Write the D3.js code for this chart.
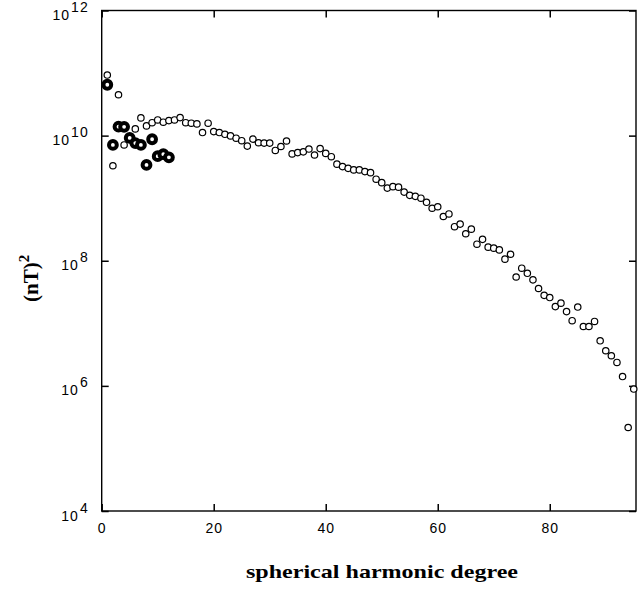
<!DOCTYPE html>
<html>
<head>
<meta charset="utf-8">
<script src="https://cdn.jsdelivr.net/npm/d3@7/dist/d3.min.js"></script>
<style>
  body { margin: 0; background: #fff; }
  .tick line { stroke: #000; stroke-width: 1.5; }
</style>
</head>
<body>
<svg id="chart"></svg>
<script>
// spherical harmonic degree (open circles)
var openDegree = [1,2,3,4,5,6,7,8,9,10,11,12,13,14,15,16,17,18,19,20,
  21,22,23,24,25,26,27,28,29,30,31,32,33,34,35,36,37,38,39,40,
  41,42,43,44,45,46,47,48,49,50,51,52,53,54,55,56,57,58,59,60,
  61,62,63,64,65,66,67,68,69,70,71,72,73,74,75,76,77,78,79,80,
  81,82,83,84,85,86,87,88,89,90,91,92,93,94,95];
// power, (nT)^2
var openPower = [9.3e10, 3.3e9, 4.5e10, 7.1e9, 9.5e9, 1.28e10, 1.92e10, 1.43e10, 1.61e10, 1.78e10,
  1.64e10, 1.74e10, 1.78e10, 1.94e10, 1.61e10, 1.58e10, 1.54e10, 1.12e10, 1.58e10, 1.16e10,
  1.12e10, 1.05e10, 9.9e9, 9.1e9, 8.3e9, 6.8e9, 8.8e9, 7.7e9, 7.6e9, 7.6e9,
  5.8e9, 6.7e9, 8.2e9, 5.1e9, 5.35e9, 5.5e9, 6.1e9, 4.9e9, 6.2e9, 5.2e9,
  4.6e9, 3.5e9, 3.2e9, 3.0e9, 2.83e9, 2.83e9, 2.66e9, 2.56e9, 2.01e9, 1.77e9,
  1.45e9, 1.53e9, 1.50e9, 1.25e9, 1.11e9, 1.07e9, 1.0e9, 8.6e8, 6.9e8, 7.3e8,
  5.1e8, 5.6e8, 3.5e8, 3.85e8, 2.7e8, 3.2e8, 1.84e8, 2.2e8, 1.65e8, 1.59e8,
  1.49e8, 1.06e8, 1.27e8, 5.5e7, 7.6e7, 6.3e7, 4.95e7, 3.6e7, 2.8e7, 2.58e7,
  1.85e7, 2.1e7, 1.54e7, 1.1e7, 1.82e7, 8.9e6, 8.9e6, 1.07e7, 5.25e6, 3.64e6,
  3.03e6, 2.37e6, 1.41e6, 2.16e5, 8.9e5];

// bold circles, low degrees
var boldDegree = [1,2,3,4,5,6,7,8,9,10,11,12];
var boldPower = [6.5e10, 7.1e9, 1.39e10, 1.38e10, 9.2e9, 7.6e9, 7.1e9, 3.4e9, 8.75e9, 4.7e9, 5.05e9, 4.5e9];

var xTicks = [0, 20, 40, 60, 80];
var yTicks = [1e4, 1e6, 1e8, 1e10, 1e12];

var width = 638, height = 589;
var pLeft = 101.7, pRight = 636, pTop = 10.5, pBottom = 511;

var svg = d3.select("#chart").attr("width", width).attr("height", height);

var x = d3.scaleLinear().domain([0, 95.4]).range([pLeft, pRight]);
var y = d3.scaleLog().domain([1e4, 1e12]).range([pBottom, pTop]);

// frame
svg.append("rect")
  .attr("x", pLeft).attr("y", pTop)
  .attr("width", pRight - pLeft).attr("height", pBottom - pTop)
  .style("fill", "none").style("stroke", "#000").style("stroke-width", 1.4);

// bottom axis with labels
var gx = svg.append("g")
  .attr("transform", "translate(0," + pBottom + ")")
  .call(d3.axisBottom(x).tickValues(xTicks).tickSizeInner(-7).tickSizeOuter(0).tickPadding(12).tickFormat(d3.format("d")));
gx.select(".domain").remove();
gx.selectAll("text")
  .style("font-family", "'Liberation Sans', Arial, sans-serif")
  .style("font-size", "14px").style("letter-spacing", "1px").style("fill", "#000");

// top axis, ticks only
var gt = svg.append("g")
  .attr("transform", "translate(0," + pTop + ")")
  .call(d3.axisTop(x).tickValues(xTicks).tickSizeInner(-7).tickSizeOuter(0).tickFormat(""));
gt.select(".domain").remove();

// left axis
var gy = svg.append("g")
  .attr("transform", "translate(" + pLeft + ",0)")
  .call(d3.axisLeft(y).tickValues(yTicks).tickSizeInner(-7).tickSizeOuter(0).tickFormat(""));
gy.select(".domain").remove();
gy.selectAll(".tick text").remove();
gy.selectAll(".tick").each(function(d) {
  var t = d3.select(this).append("text")
    .attr("x", -13).attr("y", 9)
    .attr("text-anchor", "end")
    .style("font-family", "'Liberation Sans', Arial, sans-serif")
    .style("font-size", "14px").style("letter-spacing", "1px").style("fill", "#000");
  t.append("tspan").text("10");
  t.append("tspan").attr("dx", 1).attr("dy", -8).style("font-size", "14px").text(Math.round(Math.log10(d)));
});

// right axis, ticks only
var gr = svg.append("g")
  .attr("transform", "translate(" + pRight + ",0)")
  .call(d3.axisRight(y).tickValues(yTicks).tickSizeInner(-7).tickSizeOuter(0).tickFormat(""));
gr.select(".domain").remove();

// points
svg.append("g").selectAll("circle")
  .data(openDegree)
  .enter()
  .append("circle")
  .attr("cx", function(d) { return x(d); })
  .attr("cy", function(d, i) { return y(openPower[i]); })
  .attr("r", 3.2)
  .style("fill", "#fff").style("stroke", "#000").style("stroke-width", 1.2);

svg.append("g").selectAll("circle")
  .data(boldDegree)
  .enter()
  .append("circle")
  .attr("cx", function(d) { return x(d); })
  .attr("cy", function(d, i) { return y(boldPower[i]); })
  .attr("r", 3.9)
  .style("fill", "#fff").style("stroke", "#000").style("stroke-width", 4);

// axis titles
svg.append("text")
  .attr("x", 382).attr("y", 578)
  .attr("text-anchor", "middle")
  .attr("textLength", 272).attr("lengthAdjust", "spacingAndGlyphs")
  .style("font-family", "'Liberation Serif', 'Times New Roman', serif")
  .style("font-weight", "bold").style("font-size", "19px")
  .text("spherical harmonic degree");

var yt = svg.append("text")
  .attr("transform", "translate(38,302)rotate(-90)")
  .attr("text-anchor", "start")
  .style("font-family", "'Liberation Serif', 'Times New Roman', serif")
  .style("font-weight", "bold").style("font-size", "21px");
yt.append("tspan").text("(nT)");
yt.append("tspan").attr("dy", -9).style("font-size", "15px").text("2");
</script>
</body>
</html>
